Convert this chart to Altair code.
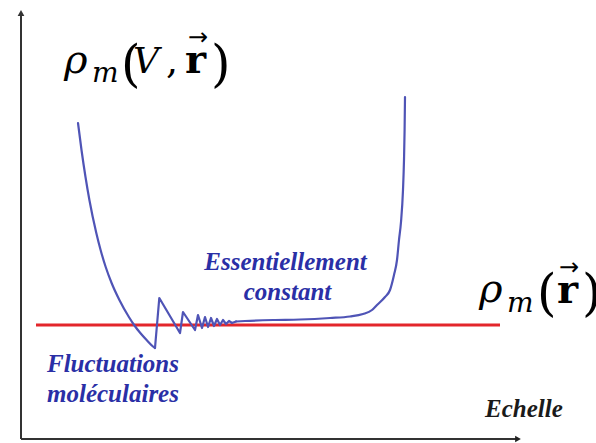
import altair as alt
import pandas as pd

# Scale: x = "échelle", y = density (arbitrary units, origin at the axes corner)
# Left arm (smooth), fluctuation zone (sharp zigzag), plateau + right arm (smooth)
left_x = [57, 60.5, 64.5, 68.4, 75.3, 79.6, 84.7, 90.6, 98.4, 107.9, 113.1, 119.3, 125.6,
          132.6, 134]
left_y = [316, 289, 262, 239, 206, 189, 172, 156, 139, 122, 114, 106, 99, 92, 91]
zig_x = [134, 138.3, 159, 162, 174, 177, 181, 184, 187, 190, 193, 196, 199, 202, 205,
         208, 211, 215]
zig_y = [91, 141, 106, 127, 109, 124, 111, 122, 112, 121, 113, 120, 114, 119, 115,
         118, 116, 117.5]
right_x = [215, 224, 252, 279, 309, 329, 342, 351, 356, 364, 369, 373, 376, 378, 380,
           382, 383, 383.6, 384]
right_y = [117.5, 118, 119, 119.5, 121, 122.5, 125, 129, 134, 142, 149, 164, 179, 199,
           217, 249, 279, 309, 342]

# Macroscopic density level
rho_level = 114
rho_x_range = [15, 479]

# Annotations
label_text = ["Essentiellement", "constant"]
label_x = [264.5, 266.5]
label_y = [169, 139]
fluct_text = ["Fluctuations", "moléculaires"]
fluct_x = [26, 26]
fluct_y = [67, 37]
scale_label = "Echelle"
scale_label_pos = (464, 22)

# Math labels, split into glyph runs: ρ_m(V, r⃗) and ρ_m(r⃗)
math_rho = pd.DataFrame({"x": [43, 458], "y": [366, 137], "t": ["ρ", "ρ"]})
math_v = pd.DataFrame({"x": [112], "y": [366], "t": ["V"]})
math_sub = pd.DataFrame({"x": [71, 486], "y": [357, 127], "t": ["m", "m"]})
math_paren = pd.DataFrame({"x": [100, 190, 516, 561], "y": [358, 358, 129, 129],
                           "t": ["(", ")", "(", ")"]})
math_comma = pd.DataFrame({"x": [145], "y": [366], "t": [","]})
math_bold = pd.DataFrame({"x": [164, 536], "y": [366, 136], "t": ["r", "r"]})
math_vec = pd.DataFrame({"x": [177, 548], "y": [401, 171], "t": ["→", "→"]})

XS = alt.Scale(domain=[-21, 575], nice=False, zero=False)
YS = alt.Scale(domain=[-4, 439], nice=False, zero=False)

LINE_BLUE = "#4f54b6"
LABEL_BLUE = "#2a2fa6"
AXIS_GREY = "#333333"


def enc(x="x", y="y", **kw):
    return dict(x=alt.X(f"{x}:Q", scale=XS, axis=None),
                y=alt.Y(f"{y}:Q", scale=YS, axis=None), **kw)


def segment(xs, ys, interp):
    df = pd.DataFrame({"x": xs, "y": ys, "i": range(len(xs))})
    return alt.Chart(df).mark_line(
        color=LINE_BLUE, strokeWidth=2.2, interpolate=interp,
        strokeJoin="round", strokeCap="round").encode(**enc(), order="i:Q")


curve = alt.layer(
    segment(left_x, left_y, "monotone"),
    segment(zig_x, zig_y, "linear"),
    segment(right_x, right_y, "monotone"),
)

red_df = pd.DataFrame({"x": [rho_x_range[0]], "x2": [rho_x_range[1]], "y": [rho_level]})
red = alt.Chart(red_df).mark_rule(color="#e3262b", strokeWidth=3).encode(
    x=alt.X("x:Q", scale=XS, axis=None), x2="x2:Q", y=alt.Y("y:Q", scale=YS, axis=None))

# Axes with arrow heads
axis_df = pd.DataFrame({"x": [0, 0], "x2": [0, 495], "y": [0, 0], "y2": [424, 0]})
axes = alt.Chart(axis_df).mark_rule(color=AXIS_GREY, strokeWidth=2).encode(
    x=alt.X("x:Q", scale=XS, axis=None), x2="x2:Q",
    y=alt.Y("y:Q", scale=YS, axis=None), y2="y2:Q")
head_up = alt.Chart(pd.DataFrame({"x": [0], "y": [426]})).mark_point(
    shape="triangle-up", filled=True, color=AXIS_GREY, size=45, opacity=1).encode(**enc())
head_right = alt.Chart(pd.DataFrame({"x": [497], "y": [0]})).mark_point(
    shape="triangle-right", filled=True, color="#222222", size=45, opacity=1).encode(**enc())

lab_df = pd.DataFrame({"x": label_x, "y": label_y, "t": label_text})
labels = alt.Chart(lab_df).mark_text(
    font="Liberation Serif", fontStyle="italic", fontWeight="bold", fontSize=25,
    color=LABEL_BLUE, align="center", baseline="alphabetic").encode(**enc(), text="t:N")

fl_df = pd.DataFrame({"x": fluct_x, "y": fluct_y, "t": fluct_text})
fluct = alt.Chart(fl_df).mark_text(
    font="Liberation Serif", fontStyle="italic", fontWeight="bold", fontSize=25,
    color=LABEL_BLUE, align="left", baseline="alphabetic").encode(**enc(), text="t:N")

sc_df = pd.DataFrame({"x": [scale_label_pos[0]], "y": [scale_label_pos[1]], "t": [scale_label]})
scale_txt = alt.Chart(sc_df).mark_text(
    font="Liberation Serif", fontStyle="italic", fontWeight="bold", fontSize=25,
    color="#1a1a1a", align="left", baseline="alphabetic").encode(**enc(), text="t:N")


def glyphs(df, size, style="normal", weight="normal", align="left", baseline="alphabetic",
           font="DejaVu Serif"):
    return alt.Chart(df).mark_text(
        font=font, fontStyle=style, fontWeight=weight, fontSize=size,
        color="#000000", align=align, baseline=baseline).encode(**enc(), text="t:N")


math = alt.layer(
    glyphs(math_rho, 40, style="italic"),
    glyphs(math_v, 36, style="italic"),
    glyphs(math_sub, 28, style="italic"),
    glyphs(math_paren, 50),
    glyphs(math_comma, 38),
    glyphs(math_bold, 40, weight="bold"),
    glyphs(math_vec, 24, align="center", baseline="middle", font="DejaVu Sans"),
)

chart = alt.layer(
    axes, head_up, head_right, red, curve, labels, fluct, scale_txt, math
).properties(
    width=596, height=443, padding=0, autosize=alt.AutoSizeParams(type="none"),
    background="white"
).configure_view(stroke=None)

chart.save("out.html", embed_options={"renderer": "svg", "actions": False})
